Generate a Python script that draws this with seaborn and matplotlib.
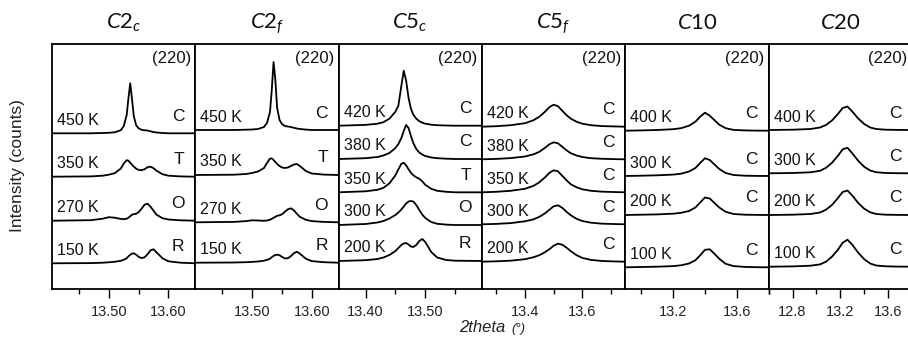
import matplotlib
matplotlib.use("Agg")
import matplotlib.pyplot as plt
from matplotlib.ticker import MultipleLocator, FormatStrFormatter
import seaborn as sns

# ---- values (intensity above each curve's baseline, arb. units) ----
c2_theta = [13.405, 13.47, 13.49, 13.50, 13.51, 13.52, 13.525, 13.53, 13.533, 13.536, 13.539, 13.542,
            13.546, 13.55, 13.555, 13.56, 13.565, 13.57, 13.575, 13.58, 13.59, 13.60, 13.62, 13.645]
c2c_450 = [0, 0, 0.3, 0.5, 1, 3, 7, 18, 35, 50, 34, 17, 8, 5, 3.5, 3, 2.8, 2, 1.3, 0.8, 0.3, 0, 0, 0]
c2c_350 = [0, 0.3, 1, 2, 3.5, 8, 13, 16.5, 16, 14, 12, 10, 8, 6.8, 6.5, 7.5, 9.5, 10, 8.5, 6, 2.5, 1, 0.3, 0]
c2c_270 = [0, 0.5, 2, 3.5, 3, 1.8, 1.5, 2, 3, 4.5, 6, 6.5, 7, 8.5, 12, 16, 17, 14, 10, 6, 2.5, 1.2, 0.4, 0]
c2c_150 = [0, 0.2, 0.6, 1, 1.5, 2.5, 3.5, 5, 7, 8.5, 9.7, 10, 8.5, 6.5, 5.2, 6, 9, 13, 14, 11, 5, 2, 0.6, 0]
c2c_offsets = [155.7, 112.3, 68.3, 25.7]
c2c_temps = ["450 K", "350 K", "270 K", "150 K"]
c2c_phases = ["C", "T", "O", "R"]

c2f_450 = [0, 0, 0.3, 0.5, 1, 3, 7, 18, 40, 68, 50, 22, 10, 6, 4, 3.5, 3, 2.2, 1.5, 1, 0.4, 0, 0, 0]
c2f_350 = [0, 0.3, 1, 2, 3.5, 7, 12, 16.5, 16.5, 15, 13, 11, 9, 7.5, 7, 7.5, 9, 10.5, 11, 9, 4, 1.5, 0.4, 0]
c2f_270 = [0, 0.4, 1.2, 2, 1.8, 1.5, 1.8, 2.5, 3.5, 4.5, 5.5, 6.5, 7, 8, 10.5, 13, 14, 12, 8.5, 5.5, 2.5, 1.2, 0.4, 0]
c2f_150 = [0, 0.2, 0.5, 0.8, 1.2, 2, 2.8, 4, 5.5, 6.8, 7.7, 8, 7.5, 5.8, 4.3, 4.5, 6.5, 9.5, 11, 9, 4, 1.6, 0.5, 0]
c2f_offsets = [159.0, 114.0, 66.7, 26.3]
c2f_temps = ["450 K", "350 K", "270 K", "150 K"]
c2f_phases = ["C", "T", "O", "R"]

c5c_theta = [13.355, 13.40, 13.42, 13.43, 13.44, 13.45, 13.455, 13.46, 13.464, 13.468, 13.472,
             13.476, 13.48, 13.485, 13.49, 13.495, 13.50, 13.51, 13.52, 13.535, 13.55, 13.595]
c5c_420 = [0, 0.8, 2, 3.5, 7, 14, 20, 40, 55, 45, 28, 17, 11, 7, 4.5, 3, 2, 1, 0.5, 0.2, 0, 0]
c5c_380 = [0, 0.8, 2, 3.5, 6, 11, 15, 21, 28, 34, 31, 23, 16, 10, 6.5, 4.5, 3, 1.5, 0.8, 0.3, 0, 0]
c5c_350 = [0, 1, 2.5, 4.5, 9, 17, 23, 28.5, 29.5, 27, 23, 19.5, 17, 15, 13.5, 11, 7.5, 3.5, 1.5, 0.5, 0, 0]
c5c_300 = [0, 1, 2.5, 4, 6.5, 10, 12.5, 15.5, 18.5, 21.5, 23.5, 24, 23.5, 20, 15, 10.5, 7, 3, 1.2, 0.4, 0, 0]
c5c_200 = [0, 0.8, 2, 3.5, 6, 10, 13, 16, 17.5, 18, 16.5, 14.5, 14, 16, 20, 22, 19, 9, 3.5, 1, 0.3, 0]
c5c_offsets = [163.3, 130.0, 96.7, 64.0, 28.0]
c5c_temps = ["420 K", "380 K", "350 K", "300 K", "200 K"]
c5c_phases = ["C", "C", "T", "O", "R"]

c5f_theta = [13.25, 13.30, 13.35, 13.40, 13.43, 13.45, 13.47, 13.485, 13.50, 13.515,
             13.53, 13.545, 13.56, 13.58, 13.60, 13.63, 13.67, 13.72, 13.75]
c5f_420 = [0, 0.5, 1.5, 3.5, 6.5, 10, 15, 19.5, 22, 20.5, 16, 11.5, 8, 5, 3, 1.5, 0.6, 0.2, 0]
c5f_380 = [0, 0.4, 1.2, 2.8, 5, 7.5, 11.5, 15, 17, 16, 12.5, 9, 6, 3.8, 2.3, 1.1, 0.5, 0.1, 0]
c5f_350 = [0, 0.5, 1.5, 3.5, 6.5, 10, 15, 19.5, 22, 21, 16.5, 12, 8, 5, 3, 1.5, 0.6, 0.2, 0]
c5f_300 = [0, 0.4, 1.2, 3, 5, 7.5, 11, 14.5, 18, 19, 16.5, 12.5, 9, 5.5, 3.3, 1.6, 0.6, 0.2, 0]
c5f_200 = [0, 0.4, 1, 2.5, 4.5, 6.5, 9.5, 12.5, 16, 18, 17, 14, 10.5, 6.5, 3.8, 1.8, 0.7, 0.2, 0]
c5f_offsets = [162.3, 129.7, 96.7, 64.7, 27.3]
c5f_temps = ["420 K", "380 K", "350 K", "300 K", "200 K"]
c5f_phases = ["C", "C", "C", "C", "C"]

c10_theta = [12.9, 13.0, 13.1, 13.2, 13.25, 13.3, 13.34, 13.37, 13.40, 13.43, 13.46,
             13.49, 13.53, 13.58, 13.65, 13.72, 13.8]
c10_400 = [0, 0.3, 0.7, 1.5, 2.5, 5, 9, 14, 18, 15, 10.5, 6, 2.5, 0.8, 0.3, 0.1, 0]
c10_300 = [0, 0.3, 0.7, 1.4, 2.3, 4.5, 8, 13, 17.8, 16, 11.5, 7, 3, 1, 0.3, 0.1, 0]
c10_200 = [0, 0.3, 0.6, 1.3, 2.2, 4, 7.5, 12.5, 17.5, 16.5, 12, 7.5, 3.2, 1, 0.3, 0.1, 0]
c10_100 = [0, 0.3, 0.6, 1.2, 2, 3.8, 7, 12, 17.5, 18, 13.5, 8.5, 3.5, 1.2, 0.4, 0.1, 0]
c10_offsets = [158.3, 113.0, 74.0, 21.7]
c10_temps = ["400 K", "300 K", "200 K", "100 K"]
c10_phases = ["C", "C", "C", "C"]

c20_theta = [12.6, 12.8, 12.95, 13.03, 13.08, 13.13, 13.18, 13.22, 13.26, 13.30, 13.35,
             13.40, 13.45, 13.50, 13.58, 13.68, 13.8]
c20_400 = [0, 0.3, 1, 2.5, 5, 9.5, 16, 22, 23.5, 18.5, 11.5, 6, 2.5, 1, 0.3, 0.1, 0]
c20_300 = [0, 0.3, 1, 2.5, 5.5, 10.5, 17.5, 24, 25.5, 20, 12.5, 6.5, 2.8, 1.1, 0.3, 0.1, 0]
c20_200 = [0, 0.3, 1, 2.5, 5.3, 10, 17, 23, 24.5, 19.5, 12, 6.3, 2.7, 1, 0.3, 0.1, 0]
c20_100 = [0, 0.3, 1, 2.3, 5, 10, 17, 24, 27, 22, 14, 7.5, 3.2, 1.2, 0.4, 0.1, 0]
c20_offsets = [159.0, 115.7, 74.0, 22.3]
c20_temps = ["400 K", "300 K", "200 K", "100 K"]
c20_phases = ["C", "C", "C", "C"]

panels = [
    dict(title=r"$\mathit{C2}_{\mathit{c}}$", theta=c2_theta,
         curves=[c2c_450, c2c_350, c2c_270, c2c_150], offsets=c2c_offsets,
         temps=c2c_temps, phases=c2c_phases, xlim=(13.405, 13.645), major=0.1, minor=0.05, fmt="%.2f"),
    dict(title=r"$\mathit{C2}_{\mathit{f}}$", theta=c2_theta,
         curves=[c2f_450, c2f_350, c2f_270, c2f_150], offsets=c2f_offsets,
         temps=c2f_temps, phases=c2f_phases, xlim=(13.405, 13.645), major=0.1, minor=0.05, fmt="%.2f"),
    dict(title=r"$\mathit{C5}_{\mathit{c}}$", theta=c5c_theta,
         curves=[c5c_420, c5c_380, c5c_350, c5c_300, c5c_200], offsets=c5c_offsets,
         temps=c5c_temps, phases=c5c_phases, xlim=(13.355, 13.595), major=0.1, minor=0.05, fmt="%.2f"),
    dict(title=r"$\mathit{C5}_{\mathit{f}}$", theta=c5f_theta,
         curves=[c5f_420, c5f_380, c5f_350, c5f_300, c5f_200], offsets=c5f_offsets,
         temps=c5f_temps, phases=c5f_phases, xlim=(13.25, 13.75), major=0.2, minor=0.1, fmt="%.1f"),
    dict(title=r"$\mathit{C10}$", theta=c10_theta,
         curves=[c10_400, c10_300, c10_200, c10_100], offsets=c10_offsets,
         temps=c10_temps, phases=c10_phases, xlim=(12.9, 13.8), major=0.4, minor=0.2, fmt="%.1f"),
    dict(title=r"$\mathit{C20}$", theta=c20_theta,
         curves=[c20_400, c20_300, c20_200, c20_100], offsets=c20_offsets,
         temps=c20_temps, phases=c20_phases, xlim=(12.6, 13.8), major=0.4, minor=0.2, fmt="%.1f"),
]

sns.set_theme(style="ticks")
plt.rcParams["font.family"] = ["Liberation Sans", "DejaVu Sans"]
plt.rcParams["mathtext.fontset"] = "custom"
plt.rcParams["mathtext.it"] = "Lato:italic"
plt.rcParams["mathtext.rm"] = "Lato"

W, H = 908, 344
fig = plt.figure(figsize=(W / 100, H / 100), dpi=100)
ax_left, ax_w = 52 / W, 143.33 / W
ax_bottom, ax_h = 55 / H, 245 / H

for i, p in enumerate(panels):
    ax = fig.add_axes([ax_left + i * ax_w, ax_bottom, ax_w, ax_h])
    for off, hts in zip(p["offsets"], p["curves"]):
        sns.lineplot(x=p["theta"], y=[off + v for v in hts], ax=ax, color="black",
                     linewidth=1.3, estimator=None, sort=False)

    trans = ax.get_yaxis_transform()
    for off, temp, phase in zip(p["offsets"], p["temps"], p["phases"]):
        ax.text(0.035, off + 13, temp, transform=trans, ha="left", va="center",
                fontsize=11.5, color="#111111")
        ax.text(0.925, off + 17, phase, transform=trans, ha="right", va="center",
                fontsize=12.5, color="#111111")
    ax.text(0.97, 0.94, "(220)", transform=ax.transAxes, ha="right", va="center",
            fontsize=12, color="#111111")

    ax.set_xlim(p["xlim"])
    ax.set_ylim(0, 245)
    ax.set_yticks([])
    ax.set_xlabel("")
    ax.set_ylabel("")
    ax.xaxis.set_major_locator(MultipleLocator(p["major"]))
    ax.xaxis.set_minor_locator(MultipleLocator(p["minor"]))
    ax.xaxis.set_major_formatter(FormatStrFormatter(p["fmt"]))
    ax.tick_params(axis="x", which="major", direction="out", length=6.5, width=1.0,
                   labelsize=10.5, pad=5, color="black", labelcolor="#222222")
    ax.tick_params(axis="x", which="minor", direction="out", length=3.4, width=1.0, color="black")
    for sp in ax.spines.values():
        sp.set_visible(True)
        sp.set_color("black")
        sp.set_linewidth(1.3)
    ax.set_title(p["title"], fontsize=16, pad=11, color="#111111")

fig.text(18 / W, 1 - 166 / H, "Intensity (counts)", rotation=90, ha="center", va="center",
         fontsize=12.5, color="#222222")
fig.text(505 / W, 1 - 332 / H, "2theta", ha="right", va="baseline", style="italic",
         fontsize=12, color="#222222")
fig.text(511 / W, 1 - 332 / H, "(°)", ha="left", va="baseline", style="italic",
         fontsize=9.5, color="#222222")

fig.savefig("out.png", dpi=100)
